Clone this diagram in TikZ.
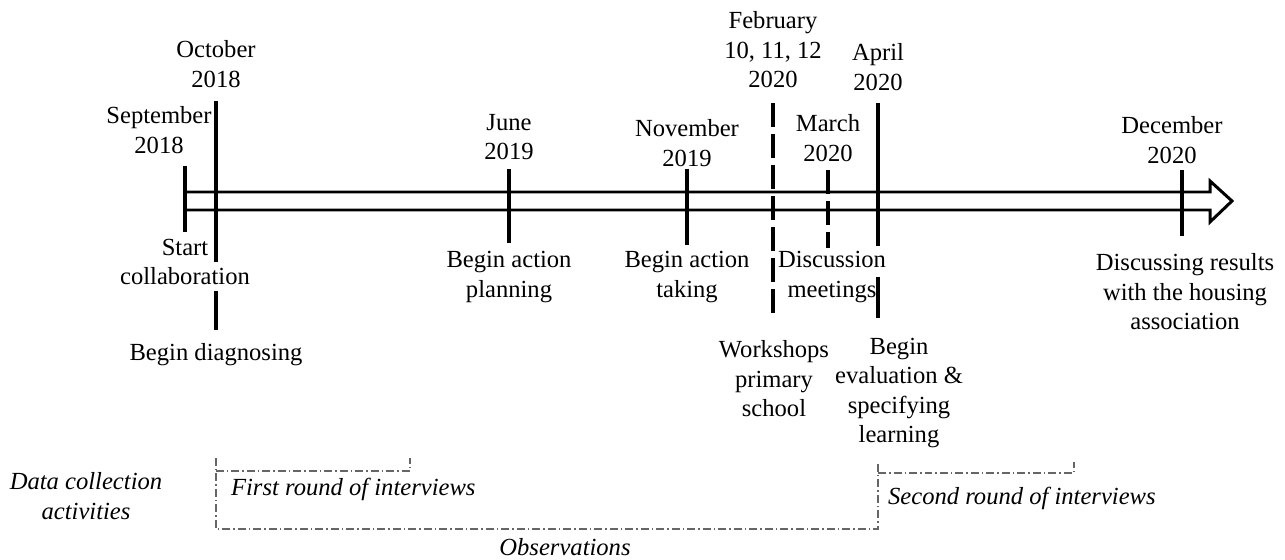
\documentclass[tikz,border=0pt]{standalone}
\usepackage{fontspec}
\setmainfont{Liberation Serif}

\tikzset{
  tick/.style={line width=1.8pt},
  dashtick/.style={tick, dash pattern=on 0.48cm off 0.14cm},
  lbl/.style={align=center, inner sep=1pt, font=\fontsize{14}{16.8}\selectfont},
  act/.style={lbl, font=\fontsize{14}{16.8}\selectfont\itshape},
  span/.style={black!60, line width=0.6pt,
    dash pattern=on 0.16cm off 0.06cm on 0.03cm off 0.06cm},
}

\begin{document}
\begin{tikzpicture}[x=0.02cm,y=-0.02cm]
  \useasboundingbox (0,0) rectangle (1285,560);

  % month ticks
  \draw[tick] (185,166) -- (185,232);
  \draw[tick] (216,101) -- (216,262);
  \draw[tick] (216,291) -- (216,330);
  \draw[tick] (509,169) -- (509,243);
  \draw[tick] (687,169) -- (687,245);
  \draw[dashtick] (773,103) -- (773,318);
  \draw[dashtick] (828,170) -- (828,248);
  \draw[tick] (878,103) -- (878,246);
  \draw[tick] (878,277) -- (878,318);
  \draw[tick] (1182,170) -- (1182,236);

  % the time line
  \draw[line width=1.7pt, line join=miter]
    (185,192) -- (1210,192) -- (1210,181) -- (1232,201)
    -- (1210,222) -- (1210,210) -- (185,210) -- cycle;

  % dates
  \node[lbl] (sep) at (159,130) {September\\2018};
  \node[lbl] (oct) at (216,64) {October\\2018};
  \node[lbl] (jun) at (509,137) {June\\2019};
  \node[lbl] (nov) at (687,143) {November\\2019};
  \node[lbl] (feb) at (773,50) {February\\10, 11, 12\\2020};
  \node[lbl] (mar) at (828,138) {March\\2020};
  \node[lbl] (apr) at (878,67) {April\\2020};
  \node[lbl] (dec) at (1172,140) {December\\2020};

  % events
  \node[lbl] (start) at (185,262) {Start\\collaboration};
  \node[lbl] (diag) at (216,355) {Begin diagnosing};
  \node[lbl] (plan) at (509,277) {Begin action\\planning};
  \node[lbl] (take) at (687,277) {Begin action\\taking};
  \node[lbl] (meet) at (832,277) {Discussion\\meetings};
  \node[lbl] (work) at (774,379) {Workshops\\primary\\school};
  \node[lbl] (eval) at (899,393) {Begin\\evaluation \&\\specifying\\learning};
  \node[lbl] (disc) at (1185,292) {Discussing results\\with the housing\\association};

  % data collection
  \draw[span] (216,458) -- (216,529) -- (878,529) -- (878,462);
  \draw[span] (216,471) -- (410,471) -- (410,458);
  \draw[span] (878,473) -- (1074,473) -- (1074,462);

  \node[act] (data) at (86,496) {Data collection\\activities};
  \node[act, anchor=west] (first) at (229,489) {First round of interviews};
  \node[act, anchor=west] (second) at (886,498) {Second round of interviews};
  \node[act] (obs) at (565,547) {Observations};
\end{tikzpicture}
\end{document}
